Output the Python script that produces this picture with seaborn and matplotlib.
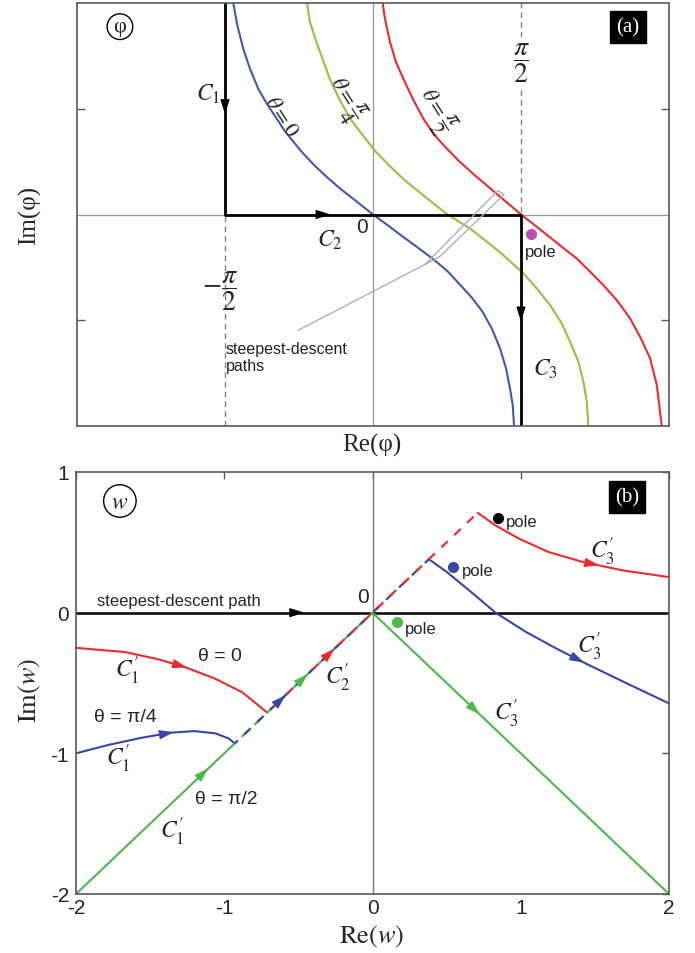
import numpy as np
import matplotlib
matplotlib.use("Agg")
import matplotlib.pyplot as plt
import seaborn as sns

sns.set_theme(style="white")
plt.rcParams["font.family"] = ["DejaVu Sans"]
plt.rcParams["mathtext.fontset"] = "stix"
plt.rcParams["axes.unicode_minus"] = False

PI = np.pi
# ---------------- panel (a) data : steepest-descent paths in the phi plane ----
blue_a_re = [-1.483, -1.44, -1.377, -1.306, -1.218, -1.128, -1.022, -0.934, -0.846, -0.740, -0.62,
             -0.492, -0.350, -0.18, 0.0, 0.145, 0.30, 0.45, 0.63, 0.79, 0.93, 1.05, 1.16,
             1.260, 1.348, 1.412, 1.454, 1.483, 1.497]
blue_a_im = [3.14, 2.81, 2.463, 2.166, 1.869, 1.647, 1.424, 1.236, 1.083, 0.905, 0.727,
             0.559, 0.386, 0.20, 0.0, -0.148, -0.312, -0.465, -0.653, -0.841, -1.053, -1.236, -1.439,
             -1.691, -1.988, -2.285, -2.582, -2.83, -3.14]
green_a_re = [-0.70, -0.67, -0.60, -0.53, -0.46, -0.36, -0.24, -0.11, 0.03, 0.17, 0.32, 0.45, 0.60,
              0.79, 1.03, 1.21, 1.383, 1.596, 1.738, 1.879, 2.003, 2.091, 2.18, 2.233, 2.269, 2.286]
green_a_im = [3.14, 2.86, 2.56, 2.29, 2.02, 1.72, 1.42, 1.18, 0.93, 0.73, 0.53, 0.38, 0.21,
              0.0, -0.208, -0.405, -0.604, -0.875, -1.098, -1.346, -1.617, -1.889, -2.186, -2.482,
              -2.779, -3.14]
red_a_re = [0.103, 0.127, 0.180, 0.244, 0.322, 0.421, 0.534, 0.64, 0.75, 0.91, 1.08, 1.330,
            1.571, 1.67, 1.85, 2.003, 2.162, 2.304, 2.445, 2.587, 2.728, 2.834, 2.941, 3.012, 3.065]
red_a_im = [3.14, 2.908, 2.562, 2.265, 2.018, 1.721, 1.424, 1.202, 1.028, 0.797, 0.583, 0.286,
            0.0, -0.108, -0.307, -0.479, -0.653, -0.850, -1.049, -1.271, -1.543, -1.815, -2.136,
            -2.533, -3.14]
# integration contour C1 -> C2 -> C3
contour_re = [-PI / 2, -PI / 2, PI / 2, PI / 2]
contour_im = [PI, 0.0, 0.0, -PI]
pole_a = (1.677, -0.297)
# annotation callout lines (data coords of panel a)
callout_re = [-0.796, 0.552]
callout_im = [-1.721, -0.742]
bracket_re = [0.552, 1.327, 1.391, 0.711, 0.552]
bracket_im = [-0.742, 0.356, 0.297, -0.623, -0.742]

# ---------------- panel (b) data : mapped paths in the w plane ----------------
sd_re = [-2.0, 2.0]
sd_im = [0.0, 0.0]
red_c1_re = [-2.0, -1.67, -1.45, -1.27, -1.06, -0.88, -0.71]
red_c1_im = [-0.25, -0.28, -0.33, -0.385, -0.47, -0.565, -0.71]
red_c2_re = [-0.71, 0.71]
red_c2_im = [-0.71, 0.71]
red_c3_re = [0.71, 0.83, 0.99, 1.19, 1.42, 1.69, 2.0]
red_c3_im = [0.71, 0.62, 0.525, 0.43, 0.36, 0.30, 0.253]
blue_c1_re = [-2.0, -1.78, -1.56, -1.36, -1.20, -1.06, -0.97, -0.93]
blue_c1_im = [-1.0, -0.94, -0.89, -0.853, -0.842, -0.858, -0.894, -0.93]
blue_c2_re = [-0.93, 0.38]
blue_c2_im = [-0.93, 0.38]
blue_c3_re = [0.38, 0.50, 0.65, 0.83, 1.035, 1.24, 1.44, 1.69, 2.0]
blue_c3_im = [0.38, 0.29, 0.16, 0.0, -0.137, -0.255, -0.362, -0.49, -0.645]
green_c1_re = [-2.0, -0.97]
green_c1_im = [-2.0, -0.97]
green_c2_re = [-0.97, 0.0]
green_c2_im = [-0.97, 0.0]
green_c3_re = [0.0, 2.0]
green_c3_im = [0.0, -2.0]
poles_b_re = [0.848, 0.545, 0.168]
poles_b_im = [0.674, 0.326, -0.064]

RED = "#ee2b2b"
BLUE_A = "#3e5bb0"
GREEN_A = "#8cc640"
BLUE_B = "#3348a8"
GREEN_B = "#4cb84a"
FRAME = "#5a5a5a"
GRAY = "#9a9a9a"
SERIF = ["Liberation Serif", "DejaVu Serif"]
SANS = ["Liberation Sans", "DejaVu Sans"]


def curve(ax, xs, ys, color, lw=1.5, **kw):
    sns.lineplot(x=xs, y=ys, sort=False, estimator=None, color=color, lw=lw, ax=ax, **kw)


def arrow_at(ax, xs, ys, key, val, color, size=13):
    xs = np.asarray(xs, float)
    ys = np.asarray(ys, float)
    s = xs if key == "x" else ys
    for i in range(len(s) - 1):
        lo, hi = sorted((s[i], s[i + 1]))
        if s[i] != s[i + 1] and lo <= val <= hi:
            t = (val - s[i]) / (s[i + 1] - s[i])
            x = xs[i] + t * (xs[i + 1] - xs[i])
            y = ys[i] + t * (ys[i + 1] - ys[i])
            dx, dy = xs[i + 1] - xs[i], ys[i + 1] - ys[i]
            n = np.hypot(dx, dy)
            e = 0.02
            ax.annotate("", xy=(x + dx / n * e, y + dy / n * e), xytext=(x - dx / n * e, y - dy / n * e),
                        arrowprops=dict(arrowstyle="-|>,head_length=0.7,head_width=0.22", color=color,
                                        lw=0.8, shrinkA=0, shrinkB=0, mutation_scale=size), zorder=6)
            return


def style_frame(ax):
    for sp in ax.spines.values():
        sp.set_color(FRAME)
        sp.set_linewidth(1.2)


fig = plt.figure(figsize=(6.95, 9.54), dpi=100)
ax_a = fig.add_axes([77 / 695, 1 - 427 / 954, 592 / 695, 423 / 954])
ax_b = fig.add_axes([76 / 695, 1 - 895 / 954, 593 / 695, 422 / 954])

# ======================= panel (a) =======================
ax = ax_a
ax.set_xlim(-PI, PI)
ax.set_ylim(-PI, PI)
style_frame(ax)
ax.axhline(0, color=GRAY, lw=0.9, zorder=1)
ax.axvline(0, color=GRAY, lw=0.9, zorder=1)
for xv in (-PI / 2, PI / 2):
    ax.axvline(xv, color="#808080", lw=1.0, ls=(0, (4, 3)), zorder=1)
curve(ax, blue_a_re, blue_a_im, BLUE_A)
curve(ax, green_a_re, green_a_im, GREEN_A)
curve(ax, red_a_re, red_a_im, RED)
curve(ax, contour_re, contour_im, "black", lw=2.0)
arrow_at(ax, contour_re[0:2], contour_im[0:2], "y", 1.51, "black")
arrow_at(ax, contour_re[1:3], contour_im[1:3], "x", -0.47, "black")
arrow_at(ax, contour_re[2:4], contour_im[2:4], "y", -1.57, "black")
ax.plot(callout_re, callout_im, color="#b0b0b0", lw=1.0, zorder=2)
ax.plot(bracket_re, bracket_im, color="#b0b0b0", lw=1.0, zorder=2)
ax.plot([pole_a[0]], [pole_a[1]], "o", color="#c04cb4", ms=7, zorder=7)

ax.set_xticks([])
ax.set_yticks([-PI / 2, PI / 2])
ax.set_yticklabels([])
ax.tick_params(axis="y", direction="in", length=6, left=True, right=True, color=FRAME, width=1.0)

ax.text(-2.686, 2.79, "φ", fontsize=16, family=SERIF, ha="center", va="center",
        bbox=dict(boxstyle="circle,pad=0.15", fc="white", ec="black", lw=1.0))
ax.text(2.707, 2.79, "(a)", fontsize=15, family=SERIF, color="white", ha="center", va="center",
        bbox=dict(boxstyle="square,pad=0.3", fc="black", ec="black"))
ax.text(-1.75, 1.80, r"$C_1$", fontsize=17, ha="center", va="center")
ax.text(-0.456, -0.36, r"$C_2$", fontsize=17, ha="center", va="center")
ax.text(1.826, -2.285, r"$C_3$", fontsize=17, ha="center", va="center")
ax.text(-0.117, -0.18, "0", fontsize=15, family=SANS, ha="center", va="center")
ax.text(-1.62, -1.13, r"$-\dfrac{\pi}{2}$", fontsize=20, ha="center", va="center")
ax.text(1.571, 2.27, r"$\dfrac{\pi}{2}$", fontsize=20, ha="center", va="center",
        bbox=dict(boxstyle="square,pad=0.1", fc="white", ec="none"))
ax.text(-0.966, 1.469, r"$\theta=0$", fontsize=16, rotation=-57, rotation_mode="anchor",
        ha="center", va="center")
ax.text(-0.30, 1.72, r"$\theta=\dfrac{\pi}{4}$", fontsize=16, rotation=-58, rotation_mode="anchor",
        ha="center", va="center")
ax.text(0.66, 1.54, r"$\theta=\dfrac{\pi}{2}$", fontsize=16, rotation=-58, rotation_mode="anchor",
        ha="center", va="center")
ax.text(1.615, -0.55, "pole", fontsize=12, family=SANS, color="#222222", ha="left", va="center")
ax.text(-1.56, -2.12, "steepest-descent\npaths", fontsize=11.5, family=SANS, color="#222222",
        ha="left", va="center", linespacing=1.15)

fig.text(30 / 695, 1 - 215 / 954, "Im(φ)", fontsize=18, family=SERIF, rotation=90, ha="center", va="center")
fig.text(372 / 695, 1 - 445 / 954, "Re(φ)", fontsize=18, family=SERIF, ha="center", va="center")

# ======================= panel (b) =======================
ax = ax_b
ax.set_xlim(-2, 2)
ax.set_ylim(-2, 1)
style_frame(ax)
ax.axvline(0, color="#777777", lw=1.0, zorder=1)
curve(ax, sd_re, sd_im, "black", lw=1.8)
arrow_at(ax, sd_re, sd_im, "x", -0.48, "black")

curve(ax, green_c1_re, green_c1_im, GREEN_B)
curve(ax, green_c3_re, green_c3_im, GREEN_B)
curve(ax, red_c1_re, red_c1_im, RED)
curve(ax, red_c3_re, red_c3_im, RED)
curve(ax, blue_c1_re, blue_c1_im, BLUE_B)
curve(ax, blue_c3_re, blue_c3_im, BLUE_B)
ax.plot(green_c2_re, green_c2_im, color=GREEN_B, lw=1.6, ls=(0, (4, 4)), zorder=3)
ax.plot(blue_c2_re, blue_c2_im, color=BLUE_B, lw=1.6, ls=(2, (4, 4)), zorder=3)
ax.plot(red_c2_re, red_c2_im, color=RED, lw=1.6, ls=(4, (4, 4)), zorder=3)

arrow_at(ax, red_c1_re, red_c1_im, "x", -1.27, RED)
arrow_at(ax, blue_c1_re, blue_c1_im, "x", -1.36, BLUE_B)
arrow_at(ax, green_c1_re, green_c1_im, "x", -1.12, GREEN_B)
arrow_at(ax, blue_c2_re, blue_c2_im, "x", -0.60, BLUE_B)
arrow_at(ax, green_c2_re, green_c2_im, "x", -0.45, GREEN_B)
arrow_at(ax, red_c2_re, red_c2_im, "x", -0.27, RED)
arrow_at(ax, red_c3_re, red_c3_im, "x", 1.51, RED)
arrow_at(ax, blue_c3_re, blue_c3_im, "x", 1.41, BLUE_B)
arrow_at(ax, green_c3_re, green_c3_im, "x", 0.71, GREEN_B)

for px, py, c in zip(poles_b_re, poles_b_im, ["black", BLUE_B, GREEN_B]):
    ax.plot([px], [py], "o", color=c, ms=7, zorder=7)
ax.text(0.90, 0.645, "pole", fontsize=12, family=SANS, ha="left", va="center")
ax.text(0.606, 0.298, "pole", fontsize=12, family=SANS, ha="left", va="center")
ax.text(0.222, -0.113, "pole", fontsize=12, family=SANS, ha="left", va="center")

ax.set_xticks([-2, -1, 0, 1, 2])
ax.set_yticks([-2, -1, 0, 1])
ax.set_xticklabels(["-2", "-1", "0", "1", "2"], family=SANS, fontsize=15)
ax.set_yticklabels(["-2", "-1", "0", "1"], family=SANS, fontsize=15)
ax.tick_params(direction="in", length=5, top=True, right=True, color=FRAME, width=1.0)
ax.tick_params(axis="x", pad=3)
ax.tick_params(axis="y", pad=5)

ax.text(-1.704, 0.794, r"$w$", fontsize=17, ha="center", va="center",
        bbox=dict(boxstyle="circle,pad=0.18", fc="white", ec="black", lw=1.0))
ax.text(1.717, 0.823, "(b)", fontsize=15, family=SERIF, color="white", ha="center", va="center",
        bbox=dict(boxstyle="square,pad=0.3", fc="black", ec="black"))
ax.text(-0.067, 0.113, "0", fontsize=15, family=SANS, ha="center", va="center")
ax.text(-1.86, 0.03, "steepest-descent path", fontsize=12, family=SANS, ha="left", va="bottom")
ax.text(-1.03, -0.305, "θ = 0", fontsize=14, family=SANS, ha="center", va="center")
ax.text(-1.67, -0.738, "θ = π/4", fontsize=14, family=SANS, ha="center", va="center")
ax.text(-0.983, -1.32, "θ = π/2", fontsize=14, family=SANS, ha="center", va="center")
ax.text(-1.657, -0.41, r"$C_1'$", fontsize=17, ha="center", va="center")
ax.text(-1.717, -1.035, r"$C_1'$", fontsize=17, ha="center", va="center")
ax.text(-1.354, -1.553, r"$C_1'$", fontsize=17, ha="center", va="center")
ax.text(-0.236, -0.454, r"$C_2'$", fontsize=17, ha="center", va="center")
ax.text(1.549, 0.44, r"$C_3'$", fontsize=17, ha="center", va="center")
ax.text(1.461, -0.234, r"$C_3'$", fontsize=17, ha="center", va="center")
ax.text(0.902, -0.716, r"$C_3'$", fontsize=17, ha="center", va="center")

fig.text(30 / 695, 1 - 690 / 954, r"$\mathrm{Im}(w)$", fontsize=19, rotation=90, ha="center", va="center")
fig.text(372 / 695, 1 - 937 / 954, r"$\mathrm{Re}(w)$", fontsize=19, ha="center", va="center")

fig.savefig("out.png", dpi=100)
